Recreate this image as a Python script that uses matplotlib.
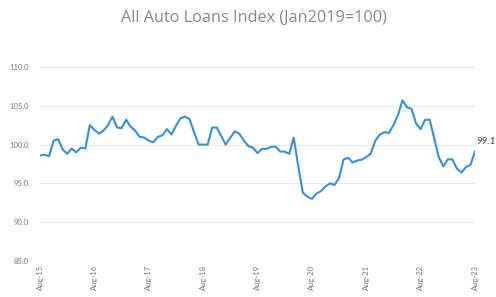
import numpy as np
import matplotlib
matplotlib.use('Agg')
import matplotlib.pyplot as plt

# -----------------------------
# Data (monthly, Aug-15 .. Aug-23)
# -----------------------------
index_values = [
    98.6, 98.7, 98.5, 100.5, 100.7, 99.4, 98.8, 99.5, 99.0, 99.6, 99.5, 102.5,
    101.9, 101.4, 101.8, 102.5, 103.6, 102.2, 102.1, 103.2, 102.3, 101.8, 101.0, 100.9,
    100.5, 100.3, 101.0, 101.2, 102.0, 101.3, 102.4, 103.4, 103.6, 103.3, 101.6, 100.0,
    100.0, 100.0, 102.2, 102.2, 101.1, 100.0, 100.9, 101.7, 101.4, 100.5, 99.8, 99.6,
    98.9, 99.45, 99.45, 99.7, 99.75, 99.1, 99.1, 98.8, 100.9, 97.2, 93.8, 93.3,
    93.0, 93.7, 94.0, 94.6, 95.0, 94.8, 95.7, 98.1, 98.3, 97.7, 97.95, 98.05,
    98.4, 98.85, 100.5, 101.3, 101.6, 101.5, 102.5, 103.8, 105.7, 104.8, 104.6, 102.7,
    102.0, 103.2, 103.2, 100.8, 98.4, 97.2, 98.1, 98.1, 96.9, 96.4, 97.1, 97.4,
    99.1,
]
tick_labels = ['Aug-15', 'Aug-16', 'Aug-17', 'Aug-18', 'Aug-19',
               'Aug-20', 'Aug-21', 'Aug-22', 'Aug-23']
y_ticks = [85, 90, 95, 100, 105, 110]

months = np.arange(len(index_values))

plt.rcParams['font.family'] = ['Lato', 'DejaVu Sans']

fig = plt.figure(figsize=(4.96, 2.97), dpi=100)
ax = fig.add_axes([40 / 496, 1 - 261 / 297, 435 / 496, (261 - 67) / 297])

ax.plot(months, index_values, color='#3a8fd2', linewidth=1.5, zorder=3)

ax.set_xlim(0, 96)
ax.set_ylim(85, 110)
ax.set_yticks(y_ticks)
ax.set_yticklabels([f'{v:.1f}' for v in y_ticks])
ax.set_xticks(months[::12])
ax.set_xticklabels(tick_labels, rotation=90, ha='center', va='top')

ax.grid(axis='y', color='#e8e8e8', linewidth=0.8)
ax.set_axisbelow(True)
for s in ax.spines.values():
    s.set_visible(False)
ax.tick_params(axis='both', length=0, colors='#777777', labelsize=5.5)
ax.tick_params(axis='y', pad=8)
ax.tick_params(axis='x', pad=3)

# end label
ax.annotate(f'{index_values[-1]:.1f}', xy=(months[-1], index_values[-1]),
            xytext=(1, 4), textcoords='offset points', ha='left', va='bottom',
            fontsize=7, fontweight='bold', fontstyle='italic', color='#666666',
            annotation_clip=False)

fig.text(0.511, 0.94, 'All Auto Loans Index (Jan2019=100)', ha='center', va='center',
         fontsize=11.7, color='#888888', family=['Open Sans', 'DejaVu Sans'])

fig.savefig('out.png', dpi=100)
